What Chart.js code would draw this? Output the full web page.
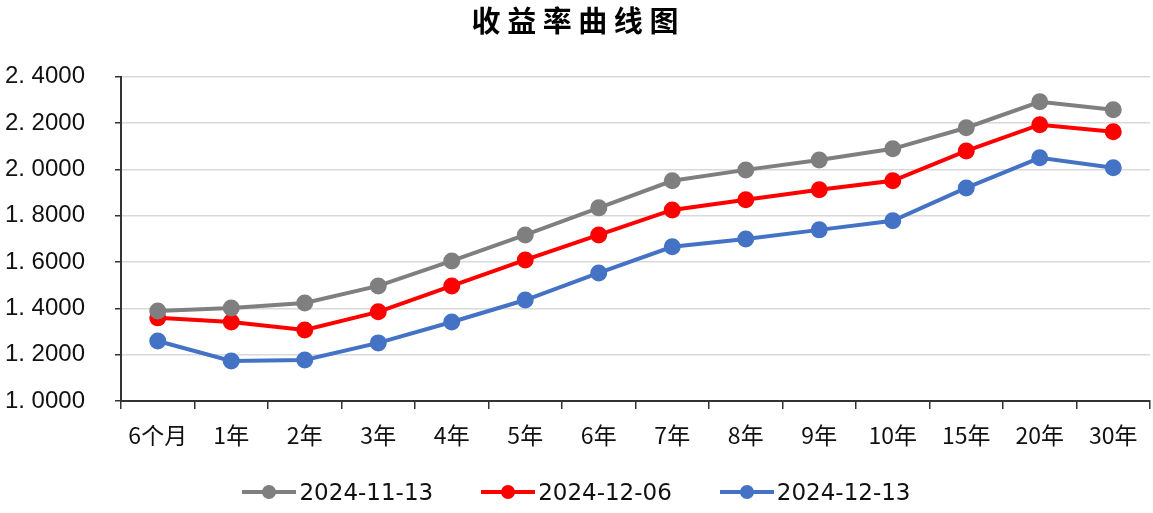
<!DOCTYPE html>
<html>
<head>
<meta charset="utf-8">
<script src="https://cdn.jsdelivr.net/npm/chart.js@4"></script>
<style>
  body { margin: 0; background: #fff; }
  #wrap { position: relative; width: 1153px; height: 513px; }
  #legend { position: absolute; left: 0; top: 477px; width: 1153px; display: flex; justify-content: center; gap: 48px;
            font-family: "DejaVu Sans", sans-serif; font-size: 23px; color: #111; line-height: 30px; }
  .item { display: flex; align-items: center; }
  .mark { position: relative; width: 54px; height: 14px; margin-right: 3px; }
  .mark .ln { position: absolute; left: 0; right: 0; top: 5px; height: 4px; }
  .mark .dot { position: absolute; left: 20px; top: 0; width: 14px; height: 14px; border-radius: 50%; }
</style>
</head>
<body>
<div id="wrap">
  <canvas id="yieldChart" width="1153" height="513"></canvas>
  <div id="legend"></div>
</div>
<script>
var tenors = ["6个月", "1年", "2年", "3年", "4年", "5年", "6年", "7年", "8年", "9年", "10年", "15年", "20年", "30年"];
var series1Label = "2024-11-13";
var series1 = [1.389, 1.402, 1.423, 1.497, 1.605, 1.717, 1.834, 1.951, 1.998, 2.041, 2.089, 2.180, 2.292, 2.258];
var series2Label = "2024-12-06";
var series2 = [1.359, 1.341, 1.307, 1.385, 1.497, 1.609, 1.717, 1.825, 1.869, 1.912, 1.951, 2.080, 2.193, 2.163];
var series3Label = "2024-12-13";
var series3 = [1.259, 1.173, 1.177, 1.251, 1.341, 1.436, 1.553, 1.666, 1.700, 1.739, 1.778, 1.920, 2.050, 2.007];
var colors = ["#7f7f7f", "#ff0000", "#4472c4"];

function line(label, data, color) {
  return {
    label: label, data: data, borderColor: color, backgroundColor: color,
    borderWidth: 4, pointRadius: 6.5, pointHoverRadius: 6.5, tension: 0
  };
}

new Chart("yieldChart", {
  type: "line",
  data: {
    labels: tenors,
    datasets: [line(series1Label, series1, colors[0]), line(series2Label, series2, colors[1]), line(series3Label, series3, colors[2])]
  },
  options: {
    responsive: false,
    animation: false,
    layout: { autoPadding: false, padding: { left: 0, right: 3, top: 0, bottom: 0 } },
    plugins: {
      legend: { display: false },
      tooltip: { enabled: false },
      title: {
        display: true,
        text: "收 益 率 曲 线 图",
        color: "#000",
        font: { family: "Noto Sans CJK SC", size: 29, weight: "bold", lineHeight: 1.2 },
        padding: { top: 4, bottom: 38 }
      }
    },
    scales: {
      x: {
        offset: true,
        grid: { offset: true, drawOnChartArea: false, drawTicks: true, tickLength: 8, color: "#333", lineWidth: 1.5 },
        border: { color: "#333", width: 2 },
        ticks: { color: "#111", padding: 12, font: { family: "Noto Sans CJK SC", size: 23 }, maxRotation: 0 },
        afterFit: function (s) { s.height = 112; }
      },
      y: {
        min: 1.0, max: 2.4,
        grid: { color: "#d9d9d9", lineWidth: 1.5, tickLength: 6, tickColor: "#333" },
        border: { color: "#333", width: 2 },
        ticks: {
          stepSize: 0.2, color: "#111", padding: 30,
          font: { family: "Liberation Sans", size: 24 },
          callback: function (v) { return v.toFixed(4).replace(".", ". "); }
        },
        afterFit: function (s) { s.width = 121; }
      }
    }
  }
});

var legend = document.getElementById("legend");
[series1Label, series2Label, series3Label].forEach(function (lab, i) {
  var it = document.createElement("div");
  it.className = "item";
  it.innerHTML = '<span class="mark"><span class="ln" style="background:' + colors[i] + '"></span><span class="dot" style="background:' + colors[i] + '"></span></span><span>' + lab + '</span>';
  legend.appendChild(it);
});
</script>
</body>
</html>
